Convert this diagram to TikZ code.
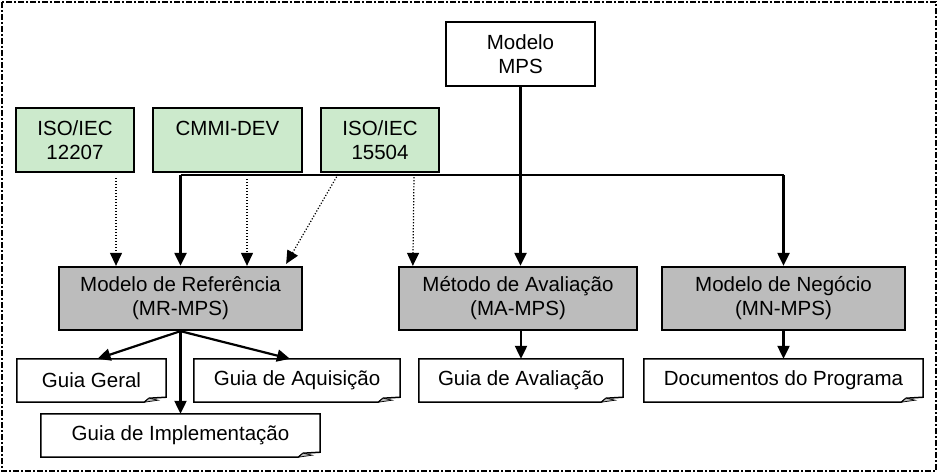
\documentclass[tikz,border=0pt]{standalone}
\usepackage{fontspec}
\setmainfont{Liberation Sans}
\usetikzlibrary{arrows.meta}
\definecolor{isogreen}{RGB}{204,234,204}
\definecolor{mpsgray}{RGB}{188,188,188}
% page with a curled corner round a guide node
\newcommand{\docpage}[1]{%
  \draw[line width=1.5pt] (#1.north west) -- (#1.north east) -- ([yshift=5pt]#1.south east)
    -- ([xshift=-17pt,yshift=4pt]#1.south east) -- ([xshift=-22pt]#1.south east)
    -- (#1.south west) -- cycle;
  \draw[line width=.7pt, fill=black!25] ([xshift=-22pt]#1.south east)
    -- ([xshift=-17pt,yshift=4pt]#1.south east) -- ([xshift=-8pt,yshift=2pt]#1.south east) -- cycle;}

\begin{document}
\begin{tikzpicture}[x=1pt, y=-1pt,
    box/.style={draw, line width=2.3pt, inner sep=0pt, minimum height=64pt, align=center,
      font=\fontsize{20.5}{24}\selectfont},
    std/.style={box, fill=isogreen, minimum width=118pt},
    part/.style={box, fill=mpsgray, minimum width=243pt, minimum height=63pt},
    guide/.style={inner sep=0pt, minimum height=43pt, font=\fontsize{20.5}{24}\selectfont},
    flow/.style={line width=2.2pt, -{Triangle[length=13pt,width=12pt]}},
    dep/.style={line width=1.2pt, dash pattern=on 1.2pt off 1.8pt, -{Triangle[length=13pt,width=12pt]}}]
  \useasboundingbox (0,0) rectangle (941,475);
  \draw[line width=1.5pt, dash pattern=on 6pt off 2pt on 2pt off 2pt] (2,2) rectangle (936,471);

  \node[box, minimum width=149pt] (mps) at (520.5,54) {Modelo\\MPS};
  \node[std] (iso12207) at (75,140) {ISO/IEC\\12207};
  \node[std, minimum width=149pt] (cmmi) at (227.5,140) {CMMI-DEV\\\phantom{0}};
  \node[std] (iso15504) at (380,140) {ISO/IEC\\15504};

  \node[part] (mr) at (180.5,298.5) {Modelo de Referência\\(MR-MPS)};
  \node[part, minimum width=238pt] (ma) at (518,298.5) {Método de Avaliação\\(MA-MPS)};
  \node[part] (mn) at (783.5,298.5) {Modelo de Negócio\\(MN-MPS)};

  \node[guide, minimum width=149pt] (geral) at (91.5,380.5) {Guia Geral};
  \node[guide, minimum width=206pt] (aquis) at (297,380.5) {Guia de Aquisição};
  \node[guide, minimum width=279pt] (impl) at (180.5,435.5) {Guia de Implementação};
  \node[guide, minimum width=204pt] (aval) at (521,380.5) {Guia de Avaliação};
  \node[guide, minimum width=279pt] (docs) at (783.5,380.5) {Documentos do Programa};
  \foreach \g in {geral,aquis,impl,aval,docs}
    \docpage{\g};

  \coordinate (busL) at (180.5,175);
  \coordinate (busR) at (783.5,175);
  \draw[line width=2.2pt] (busL) -- (busR);
  \draw[flow] (busL) -- (mr.north);
  \draw[flow] (busR) -- (mn.north);
  \draw[flow] (mps.south) -- (mps.south |- ma.north);

  \draw[dep] ([xshift=41pt,yshift=-5pt]iso12207.south) -- ([xshift=-64.5pt]mr.north);
  \draw[dep] ([xshift=19.5pt,yshift=-6pt]cmmi.south) -- ([xshift=66.5pt]mr.north);
  \draw[dep] ([xshift=-102pt,yshift=-1pt]iso15504.south east) -- ([xshift=-17pt,yshift=2pt]mr.north east);
  \draw[dep] ([xshift=34pt,yshift=-4pt]iso15504.south) -- ([xshift=15pt]ma.north west);

  \draw[flow] (mr.south) -- ([xshift=6pt]geral.north);
  \draw[flow] (mr.south) -- ([xshift=-7pt]aquis.north);
  \draw[flow] (mr.south) -- (impl.north);
  \draw[flow] (aval.north |- ma.south) -- (aval.north);
  \draw[flow] (mn.south) -- (docs.north);
\end{tikzpicture}
\end{document}
